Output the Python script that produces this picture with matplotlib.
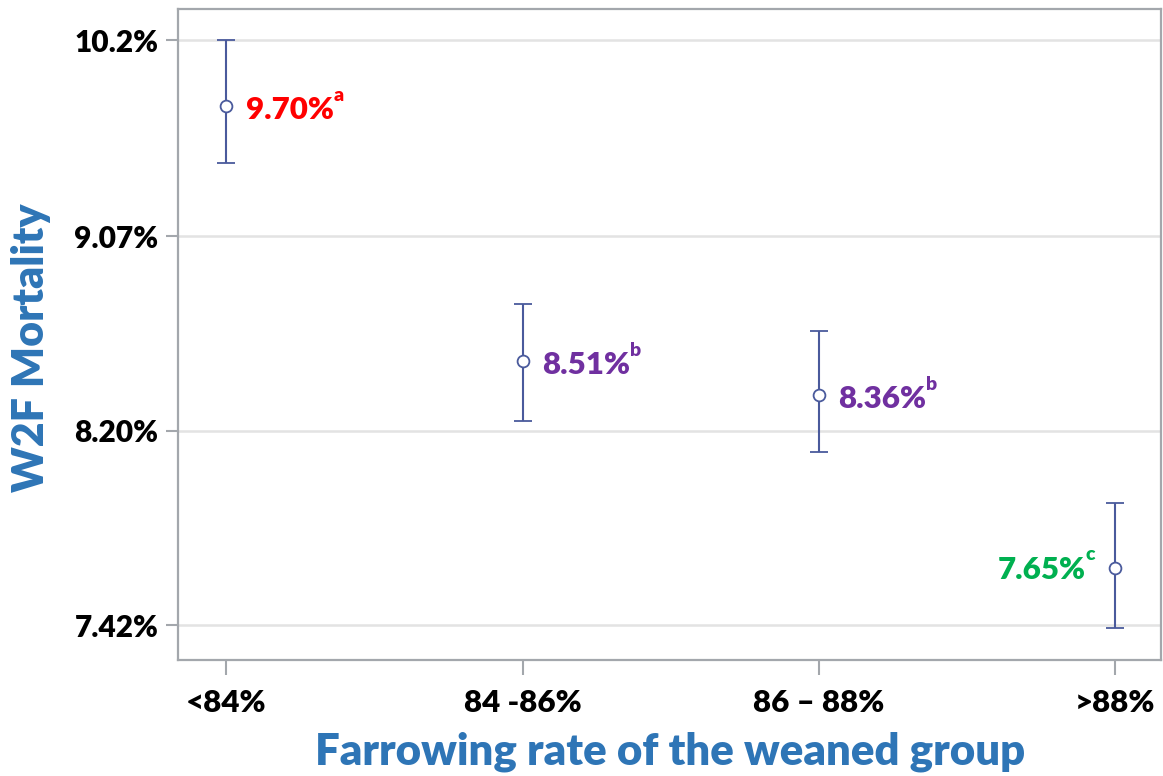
import matplotlib
matplotlib.use("Agg")
import matplotlib.pyplot as plt
from matplotlib.ticker import NullLocator

plt.rcParams['font.family'] = ['Lato', 'DejaVu Sans']

# groups and W2F mortality estimates (%) with confidence limits
groups = ['<84%', '84 -86%', '86 \u2013 88%', '>88%']
mortality = [9.70, 8.51, 8.36, 7.65]
ci_low = [9.42, 8.25, 8.12, 7.42]
ci_high = [10.03, 8.76, 8.64, 7.91]
letters = ['a', 'b', 'b', 'c']
label_colors = ['#FF0000', '#7030A0', '#7030A0', '#00B050']

# log-scale ticks and their printed labels
y_ticks = [10.03, 9.07, 8.21, 7.43]
y_tick_labels = ['10.2%', '9.07%', '8.20%', '7.42%']

bar_color = '#4A5A9C'
grey = '#A3A7AC'
blue = '#2E75B6'
weight = 'heavy'

fig = plt.figure(figsize=(11.63, 7.76), dpi=100)
ax = fig.add_axes([0.1531, 0.1495, 0.8455, 0.8383])

x = list(range(len(groups)))
yerr = [[m - lo for m, lo in zip(mortality, ci_low)],
        [hi - m for m, hi in zip(mortality, ci_high)]]
ax.errorbar(x, mortality, yerr=yerr, fmt='o', mfc='white', mec=bar_color,
            mew=1.3, ms=8.5, ecolor=bar_color, elinewidth=1.5,
            capsize=6.5, capthick=1.5, zorder=3)

ax.set_yscale('log')
ax.set_ylim(7.298, 10.19)
ax.set_xlim(-0.163, 3.156)
ax.set_yticks(y_ticks, y_tick_labels)
ax.yaxis.set_minor_locator(NullLocator())
ax.set_xticks(x, groups)

ax.grid(axis='y', color='#E3E3E3', linewidth=1.8, zorder=0)
ax.set_axisbelow(True)
for sp in ax.spines.values():
    sp.set_color(grey)
    sp.set_linewidth(1.6)

ax.tick_params(axis='y', length=9, width=1.5, color=grey, pad=5,
               labelsize=21.5, labelcolor='black')
ax.tick_params(axis='x', length=11, width=1.5, color=grey, pad=10,
               labelsize=22.5, labelcolor='black')
for lbl in ax.get_xticklabels() + ax.get_yticklabels():
    lbl.set_fontweight(weight)

# value labels with superscript letters
for i, (m, let, col) in enumerate(zip(mortality, letters, label_colors)):
    if i == 3:
        t = ax.annotate(f'{m:.2f}%', xy=(i, m), xytext=(-21, -1),
                        textcoords='offset points', ha='right', va='center',
                        fontsize=22.5, fontweight=weight, color=col)
    else:
        t = ax.annotate(f'{m:.2f}%', xy=(i, m), xytext=(14, -3),
                        textcoords='offset points', ha='left', va='center',
                        fontsize=22.5, fontweight=weight, color=col)
    ax.annotate(let, xy=(1, 0.72), xycoords=t, xytext=(0, 0),
                textcoords='offset points', ha='left', va='bottom',
                fontsize=14, fontweight=weight, color=col)

ax.set_ylabel('W2F Mortality', fontsize=31, fontweight=weight, color=blue)
ax.yaxis.set_label_coords(-0.129, 0.48)
ax.set_xlabel('Farrowing rate of the weaned group', fontsize=31.5,
              fontweight=weight, color=blue, labelpad=10)

fig.savefig('out.png', dpi=100)
